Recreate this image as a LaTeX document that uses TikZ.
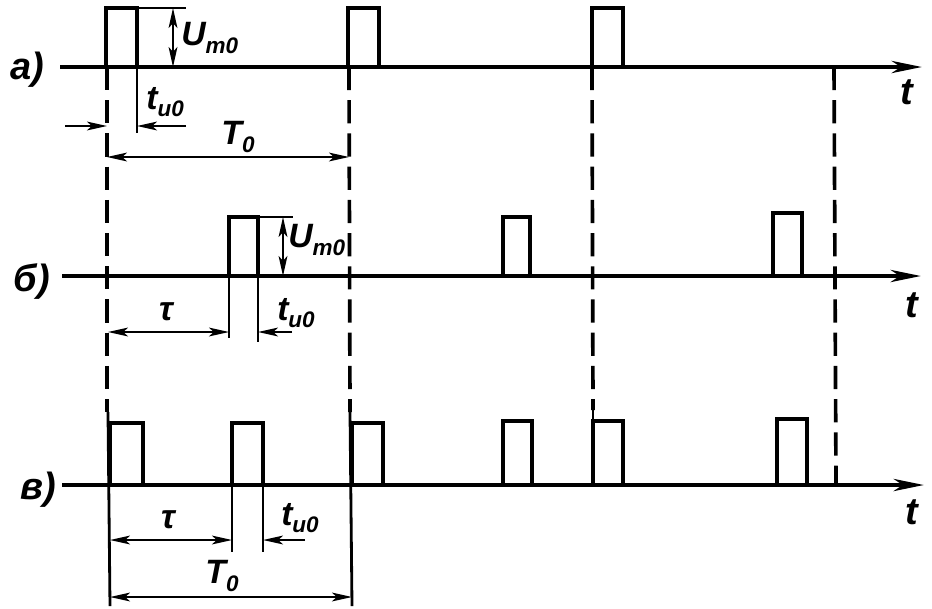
\documentclass[tikz,border=0pt]{standalone}
\usepackage{fontspec}
\setmainfont{Liberation Sans}
\usetikzlibrary{arrows.meta}
\newcommand{\lowidx}[1]{\raisebox{-0.4ex}{\fontsize{16}{16}\selectfont #1}}

\begin{document}
\begin{tikzpicture}[x=0.025cm, y=-0.025cm,
    >={Stealth[length=5mm, width=2.2mm, inset=1.2mm]},
    axis/.style={line width=3.2pt, -{Stealth[length=7.5mm, width=3mm, inset=2.2mm]}},
    pulse/.style={line width=3.2pt, line join=miter},
    guide/.style={line width=2.6pt, dash pattern=on 5.8mm off 2.5mm},
    ext/.style={line width=1.5pt},
    lbl/.style={font=\fontsize{24}{28}\selectfont\bfseries\itshape, inner sep=0pt},
    row/.style={font=\fontsize{27}{30}\selectfont\bfseries\itshape, inner sep=0pt}]

    \useasboundingbox (0,0) rectangle (932,608);

    \draw[axis] (60,67) -- (922,67);
    \draw[axis] (62,276) -- (921,276);
    \draw[axis] (62,485) -- (924,485);

    \node[row] (rowa) at (27,70) {а)};
    \node[row] (rowb) at (32,282) {б)};
    \node[row] (rowc) at (38,490) {в)};
    \node[row] (ta) at (907,92) {t};
    \node[row] (tb) at (912,305) {t};
    \node[row] (tc) at (912,512) {t};

    \foreach \x in {106, 348, 592}
        \draw[pulse] (\x,67) -- (\x,8) -- (\x+31,8) -- (\x+31,67);
    \foreach \x/\w/\h in {229/29/217, 503/27/217, 773/29/213}
        \draw[pulse] (\x,276) -- (\x,\h) -- (\x+\w,\h) -- (\x+\w,276);
    \foreach \x/\w/\h in {110/33/423, 232/31/423, 352/31/423, 503/29/421, 593/30/421, 777/30/419}
        \draw[pulse] (\x,485) -- (\x,\h) -- (\x+\w,\h) -- (\x+\w,485);

    \draw[guide] (107,67) -- (107,412);
    \draw[ext, line width=2pt] (108,412) -- (110,606);
    \draw[guide] (349,67) -- (350,412);
    \draw[ext, line width=2pt] (350,412) -- (352,606);
    \draw[guide] (592,67) -- (593,410);
    \draw[ext, line width=2pt] (593,410) -- (593,421);
    \draw[guide] (834,67) -- (836,485);

    \draw[ext] (137,8) -- (186,8);
    \draw[ext, <->] (173,8) -- (173,67);
    \node[lbl, anchor=west] (uma) at (181,38) {U\lowidx{m0}};
    \draw[ext] (137,67) -- (137,133);
    \draw[ext, ->] (65,126) -- (107,126);
    \draw[ext, ->] (186,126) -- (137,126);
    \node[lbl, anchor=west] (tia) at (146,102) {t\lowidx{и0}};
    \draw[ext, <->] (107,157) -- (349,157);
    \node[lbl] (Ta) at (238,137) {T\lowidx{0}};

    \draw[ext] (258,217) -- (293,217);
    \draw[ext, <->] (283,217) -- (283,276);
    \node[lbl, anchor=west] (umb) at (288,240) {U\lowidx{m0}};
    \draw[ext] (229,276) -- (229,338);
    \draw[ext] (258,276) -- (258,342);
    \draw[ext, <->] (108,332) -- (229,332);
    \node[lbl] (taub) at (166,312) {τ};
    \draw[ext, ->] (292,332) -- (258,332);
    \node[lbl] (tib) at (296,313) {t\lowidx{и0}};

    \draw[ext] (232,485) -- (232,552);
    \draw[ext] (263,485) -- (263,552);
    \draw[ext, <->] (110,540) -- (232,540);
    \node[lbl] (tauc) at (168,520) {τ};
    \draw[ext, ->] (305,540) -- (263,540);
    \node[lbl] (tic) at (300,518) {t\lowidx{и0}};
    \draw[ext, <->] (110,597) -- (352,597);
    \node[lbl] (Tc) at (222,576) {T\lowidx{0}};

\end{tikzpicture}
\end{document}
